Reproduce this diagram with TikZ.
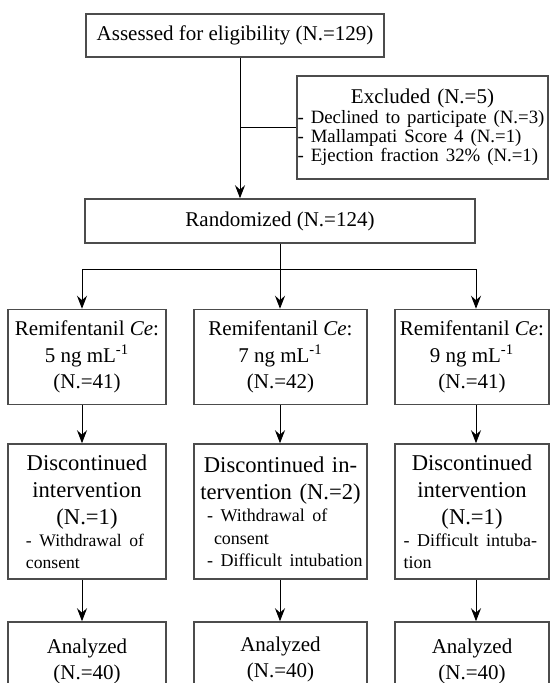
\documentclass[tikz,border=0pt]{standalone}
\usepackage{fontspec}
\setmainfont{Liberation Serif}
\usetikzlibrary{arrows.meta}

\begin{document}
\begin{tikzpicture}[x=0.5pt, y=-0.5pt,
    box/.style={draw=black!70, line width=0.75pt, align=center, inner sep=0pt,
        font=\fontsize{10.5}{13}\selectfont},
    listbox/.style={draw=black!70, line width=0.75pt, inner ysep=0pt, inner xsep=1pt,
        font=\fontsize{11.3}{13.5}\selectfont},
    flow/.style={-{Stealth[length=6.5pt,width=5pt,inset=2.2pt]}, line width=0.5pt},
    link/.style={line width=0.5pt}]
    \useasboundingbox (0,0) rectangle (550,683);
    \clip (0,0) rectangle (550,683);

    % Enrollment
    \node[box, minimum width=149pt, minimum height=21.5pt] (assess) at (235,35.5)
        {Assessed for eligibility (N.=129)};
    \node[listbox, font=\fontsize{10.5}{13}\selectfont, inner xsep=0.25pt, text width=125pt,
        minimum height=51.5pt] (excl) at (422.5,127.5)
        {\centering Excluded (N.=5)\par
         \raggedright\fontsize{9.4}{9.6}\selectfont
         - Declined to participate (N.=3)\\
         - Mallampati Score 4 (N.=1)\\
         - Ejection fraction 32\% (N.=1)\par};
    \node[box, minimum width=195pt, minimum height=22pt] (rand) at (280,221)
        {Randomized (N.=124)};

    \coordinate (spine) at (240,0);
    \draw[flow] (assess.south -| spine) -- (rand.north -| spine);
    \draw[link] (spine |- excl.west) -- (excl.west);

    % Allocation
    \coordinate (c1) at (82,270);
    \coordinate (c2) at (280,270);
    \coordinate (c3) at (476,270);
    \node[box, font=\fontsize{10.5}{13.2}\selectfont, minimum width=79pt, minimum height=47.5pt] (grp1) at (87,357)
        {Remifentanil \textit{Ce}:\\5 ng mL\textsuperscript{-1}\\(N.=41)};
    \node[box, font=\fontsize{10.5}{13.2}\selectfont, minimum width=86.5pt, minimum height=47.5pt] (grp2) at (280.5,357)
        {Remifentanil \textit{Ce}:\\7 ng mL\textsuperscript{-1}\\(N.=42)};
    \node[box, font=\fontsize{10.5}{13.2}\selectfont, minimum width=77pt, minimum height=47.5pt] (grp3) at (472,357)
        {Remifentanil \textit{Ce}:\\9 ng mL\textsuperscript{-1}\\(N.=41)};

    \draw[link] (rand.south -| c2) -- (c2);
    \draw[flow] (c2) -| (grp1.north -| c1);
    \draw[flow] (c2) -- (grp2.north -| c2);
    \draw[flow] (c2) -| (grp3.north -| c3);

    % Follow-up
    \node[listbox, text width=77pt, minimum height=67.5pt] (disc1) at (87,511.5)
        {\centering Discontinued\\intervention\\(N.=1)\par
         \raggedright\leftskip=8pt\fontsize{8.8}{11}\selectfont
         - Withdrawal of\\consent\par};
    \node[listbox, text width=84.5pt, minimum height=67.5pt] (disc2) at (280.5,511.5)
        {\centering Discontinued in-\\tervention (N.=2)\par
         \raggedright\leftskip=5.5pt\fontsize{9}{11.25}\selectfont
         - Withdrawal of\\\hspace*{3.5pt}consent\\
         - Difficult intubation\par};
    \node[listbox, text width=75pt, minimum height=67.5pt] (disc3) at (472,511.5)
        {\centering Discontinued\\intervention\\(N.=1)\par
         \raggedright\leftskip=3.25pt\fontsize{9}{11}\selectfont
         - Difficult intuba-\\tion\par};

    \draw[flow] (grp1.south -| c1) -- (disc1.north -| c1);
    \draw[flow] (grp2.south -| c2) -- (disc2.north -| c2);
    \draw[flow] (grp3.south -| c3) -- (disc3.north -| c3);

    % Analysis
    \node[box, minimum width=79pt, minimum height=39.5pt] (anal1) at (87,661.5) {Analyzed\\(N.=40)};
    \node[box, minimum width=86.5pt, minimum height=37.5pt] (anal2) at (280.5,659.5) {Analyzed\\(N.=40)};
    \node[box, minimum width=77pt, minimum height=39.5pt] (anal3) at (472,661.5) {Analyzed\\(N.=40)};

    \draw[flow] (disc1.south -| c1) -- (anal1.north -| c1);
    \draw[flow] (disc2.south -| c2) -- (anal2.north -| c2);
    \draw[flow] (disc3.south -| c3) -- (anal3.north -| c3);
\end{tikzpicture}
\end{document}
